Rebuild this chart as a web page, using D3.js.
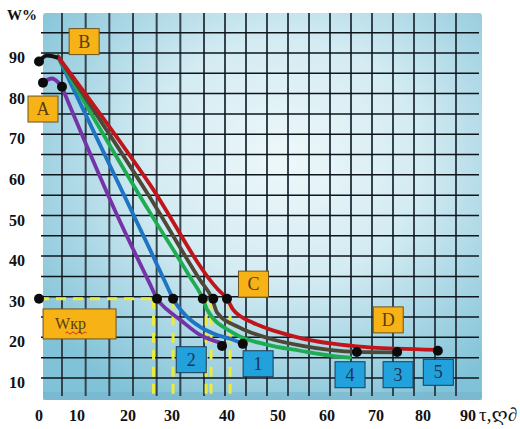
<!DOCTYPE html>
<html lang="en">
<head>
<meta charset="utf-8">
<title>W% - drying curves</title>
<script src="https://cdn.jsdelivr.net/npm/d3@7"></script>
<style>
  body { margin: 0; background: #fff; }
  svg { display: block; }
</style>
</head>
<body>
<script>
var xTicks = [0, 10, 20, 30, 40, 50, 60, 70, 80, 90];
var yTicks = [10, 20, 30, 40, 50, 60, 70, 80, 90];

// curves: [tau, W%]
var curve2 = [[6.0, 82.2], [18.0, 50.2], [25.0, 33.6], [26.6, 30], [28.9, 27.3], [31.5, 24.8], [35.1, 21.1], [38.7, 19.2]];
var curve1 = [[5.0, 89.6], [25.0, 42.1], [29.1, 32.6], [30.2, 30], [32.7, 25.6], [35.1, 23.1], [38.2, 21.1], [41.2, 19.9], [43.1, 18.9]];
var curve4 = [[5.0, 89.6], [25.0, 51.2], [33.3, 35.3], [35.6, 30], [36.4, 27.3], [41.2, 21.6], [47.8, 18.7], [54.5, 17.2], [60.6, 16.0], [64.7, 15.5]];
var curve3 = [[5.0, 89.6], [25.0, 54.9], [35.1, 34.6], [37.3, 30], [38.2, 26.6], [42.5, 22.9], [47.8, 20.4], [55.0, 18.4], [66.1, 16.9], [74.5, 16.8]];
var curve5 = [[5.0, 89.6], [25.0, 58.1], [38.4, 32.2], [40.0, 30], [41.2, 27.3], [45.1, 24.1], [49.8, 21.9], [55.0, 20.2], [66.1, 18.3], [74.5, 17.7], [83.3, 17.4]];

// little caps at the start
var capBlack = [[0, 88.4], [2.1, 89.85], [5.0, 89.3]];
var capPurple = [[1.05, 83.2], [3.4, 84.2], [6.05, 82.2]];

var dots = [[0, 88.4], [1.05, 83.2], [6.05, 82.2], [0, 30], [26.6, 30], [30.2, 30], [35.6, 30], [37.5, 30], [40.0, 30],
            [39.1, 18.4], [43.1, 18.9], [66.1, 16.9], [74.5, 16.9], [83.3, 17.2]];

// critical moisture and the times where each curve reaches it
var wkr = 30;
var wkrTimes = [25.8, 30.2, 36.2, 37.1, 40.6];

// labels
var notes = [
  {t: "A", x: 1.05, y: 76.7, kind: "o"},
  {t: "B", x: 11.4, y: 93.3, kind: "o"},
  {t: "C", x: 45.2, y: 33.6, kind: "o"},
  {t: "D", x: 72.6, y: 24.8, kind: "o"},
  {t: "2", x: 33.5, y: 15.0, kind: "b"},
  {t: "1", x: 46.1, y: 14.0, kind: "b"},
  {t: "4", x: 64.7, y: 11.3, kind: "b"},
  {t: "3", x: 74.7, y: 11.3, kind: "b"},
  {t: "5", x: 83.4, y: 11.9, kind: "b"}
];

var w = 520, h = 429;

var svg = d3.select("body").append("svg")
    .attr("width", w)
    .attr("height", h)
    .attr("font-family", "'Liberation Serif', 'Times New Roman', 'DejaVu Serif', serif");

// x spacing on the picture is not even, so map tick by tick
var x = d3.scaleLinear()
    .domain(xTicks)
    .range([39, 77, 128, 172, 227, 278, 327, 376, 423, 468]);

var y = d3.scaleLinear()
    .domain([10, 90])
    .range([380, 55]);

var gx = d3.scaleLinear().domain([0, 6, 18]).range([62, 204, 456]);

var defs = svg.append("defs");
var grad = defs.append("radialGradient")
    .attr("id", "bg")
    .attr("cx", 0.55).attr("cy", 0.38).attr("r", 0.7);
grad.append("stop").attr("offset", 0).attr("stop-color", "#eef8fa");
grad.append("stop").attr("offset", 0.45).attr("stop-color", "#d3ebf2");
grad.append("stop").attr("offset", 1).attr("stop-color", "#80c2d7");

// plot background
svg.append("rect")
    .attr("x", 43).attr("y", 13)
    .attr("width", 439).attr("height", 387)
    .attr("rx", 3)
    .attr("fill", "url(#bg)");
svg.append("rect")
    .attr("x", 43).attr("y", 392)
    .attr("width", 439).attr("height", 8)
    .attr("fill", "#74b3ca")
    .attr("opacity", 0.55);

// grid
var grid = svg.append("g");
grid.selectAll("line.v")
    .data(d3.range(19))
    .enter().append("line")
    .attr("class", "v")
    .attr("x1", function(d) { return gx(d); })
    .attr("x2", function(d) { return gx(d); })
    .attr("y1", 13).attr("y2", 396)
    .attr("stroke", "#34434e")
    .attr("stroke-width", 2);
grid.selectAll("line.h")
    .data(d3.range(18))
    .enter().append("line")
    .attr("class", "h")
    .attr("x1", 41).attr("x2", 479)
    .attr("y1", function(d) { return y(10.5 + 5 * d); })
    .attr("y2", function(d) { return y(10.5 + 5 * d); })
    .attr("stroke", "#0e161c")
    .attr("stroke-width", 1.5);

// yellow dashes for Wkr
var dash = svg.append("g")
    .attr("stroke", "#ecec3a")
    .attr("stroke-width", 3)
    .attr("stroke-dasharray", "10,7");
dash.append("line")
    .attr("x1", x(0)).attr("x2", x(wkrTimes[0]))
    .attr("y1", y(wkr)).attr("y2", y(wkr));
dash.selectAll("line.t")
    .data(wkrTimes)
    .enter().append("line")
    .attr("class", "t")
    .attr("x1", function(d) { return x(d); })
    .attr("x2", function(d) { return x(d); })
    .attr("y1", y(wkr)).attr("y2", y(5.6));

// curves
var line = d3.line()
    .x(function(d) { return x(d[0]); })
    .y(function(d) { return y(d[1]); })
    .curve(d3.curveMonotoneX);

var series = [
  {d: curve2, c: "#7434a8"},
  {d: curve1, c: "#1f74c4"},
  {d: curve4, c: "#1fab52"},
  {d: curve3, c: "#4e4838"},
  {d: curve5, c: "#c0161b"}
];

svg.selectAll("path.curve")
    .data(series)
    .enter().append("path")
    .attr("class", "curve")
    .attr("d", function(d) { return line(d.d); })
    .attr("fill", "none")
    .attr("stroke", function(d) { return d.c; })
    .attr("stroke-width", 3.8)
    .attr("stroke-linecap", "round");

svg.append("path")
    .attr("d", line(capBlack))
    .attr("fill", "none").attr("stroke", "#111").attr("stroke-width", 4);
svg.append("path")
    .attr("d", line(capPurple))
    .attr("fill", "none").attr("stroke", "#7434a8").attr("stroke-width", 4);

svg.selectAll("circle.dot")
    .data(dots)
    .enter().append("circle")
    .attr("class", "dot")
    .attr("cx", function(d) { return x(d[0]); })
    .attr("cy", function(d) { return y(d[1]); })
    .attr("r", 5)
    .attr("fill", "#0b0b0b");

// label boxes
var boxW = 30, boxH = 26;
var nb = svg.selectAll("g.note")
    .data(notes)
    .enter().append("g")
    .attr("class", "note")
    .attr("transform", function(d) { return "translate(" + x(d.x) + "," + y(d.y) + ")"; });
nb.append("rect")
    .attr("x", -boxW / 2).attr("y", -boxH / 2)
    .attr("width", boxW).attr("height", boxH)
    .attr("fill", function(d) { return d.kind == "o" ? "#f7b316" : "#22a2dc"; })
    .attr("stroke", function(d) { return d.kind == "o" ? "#6b5320" : "#1c3a55"; })
    .attr("stroke-width", 1);
nb.append("text")
    .attr("text-anchor", "middle")
    .attr("y", 6)
    .attr("font-size", 18)
    .attr("fill", function(d) { return d.kind == "o" ? "#5a3c12" : "#1c3358"; })
    .text(function(d) { return d.t; });

// Wkr box
var wk = svg.append("g")
    .attr("transform", "translate(" + x(10.5) + "," + y(23.8) + ")");
wk.append("rect")
    .attr("x", -36.5).attr("y", -15)
    .attr("width", 73).attr("height", 30)
    .attr("fill", "#f7b316")
    .attr("stroke", "#6b5320")
    .attr("stroke-width", 1);
wk.append("text")
    .attr("x", -9).attr("y", 5)
    .attr("text-anchor", "middle")
    .attr("font-size", 16)
    .attr("fill", "#5a3c12")
    .text("Wкр");
// spell-check squiggle under the word
wk.append("path")
    .attr("d", "M-14,9 q1.5,-2.2 3,0 t3,0 t3,0 t3,0 t3,0 t3,0 t3,0")
    .attr("fill", "none")
    .attr("stroke", "#d42a1e")
    .attr("stroke-width", 1);

// tick labels
svg.selectAll("text.yt")
    .data(yTicks)
    .enter().append("text")
    .attr("class", "yt")
    .attr("x", 25)
    .attr("y", function(d) { return y(d) + 8; })
    .attr("text-anchor", "end")
    .attr("font-size", 16)
    .attr("font-weight", "bold")
    .attr("fill", "#111")
    .text(function(d) { return d; });

svg.selectAll("text.xt")
    .data(xTicks)
    .enter().append("text")
    .attr("class", "xt")
    .attr("x", function(d) { return x(d); })
    .attr("y", 421)
    .attr("text-anchor", "middle")
    .attr("font-size", 16)
    .attr("font-weight", "bold")
    .attr("fill", "#111")
    .text(function(d) { return d; });

svg.append("text")
    .attr("x", 7).attr("y", 20)
    .attr("font-size", 15)
    .attr("font-weight", "bold")
    .attr("fill", "#111")
    .text("W%");

svg.append("text")
    .attr("x", x(90) + 11).attr("y", 421)
    .attr("font-size", 19)
    .attr("fill", "#111")
    .text("τ,ღ∂");
</script>
</body>
</html>
